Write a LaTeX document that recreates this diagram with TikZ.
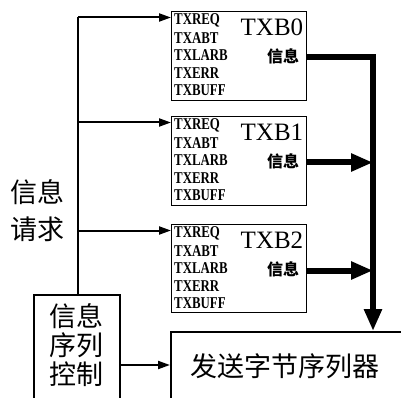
\documentclass[tikz,border=0pt]{standalone}
\usepackage{fontspec}
\setmainfont{Liberation Serif}
\newfontfamily\cjk{Noto Sans CJK SC}
\newfontfamily\tagfont[FakeStretch=0.78]{Liberation Serif}
\usetikzlibrary{arrows.meta,calc}
\begin{document}
\begin{tikzpicture}[x=1pt,y=-1pt,
  box/.style={draw, line width=1.4pt, anchor=north west, inner sep=0pt, minimum width=135pt, minimum height=89pt},
  openbox/.style={draw, line width=1.7pt, anchor=north west, inner sep=0pt},
  tag/.style={font=\tagfont\bfseries\fontsize{16.5}{16.5}\selectfont, anchor=west, inner sep=0pt},
  boxname/.style={font=\fontsize{25}{25}\selectfont, anchor=east, inner sep=0pt},
  msg/.style={font=\cjk\bfseries\fontsize{16}{16}\selectfont, anchor=east, inner sep=0pt},
  big/.style={font=\cjk\fontsize{27}{27}\selectfont, inner sep=0pt},
  req/.style={line width=2pt, -{Triangle[length=12pt,width=8pt]}},
  bus/.style={line width=6pt, line join=miter},
  busarrow/.style={bus, -{Triangle[length=22pt,width=17pt]}}]
\useasboundingbox (0,0) rectangle (401,398);
\clip (0,0) rectangle (401,398);

% TX buffer boxes
\node[box] (b0) at (171,11) {};
\node[box] (b1) at (171,116) {};
\node[box, minimum height=88pt] (b2) at (171,224) {};

\foreach \b/\n in {b0/0,b1/1,b2/2}{
  \node[tag] (\b r) at ($(\b.north west)+(3,9.5)$) {TXREQ};
  \node[tag] (\b a) at ($(\b.north west)+(3,27)$) {TXABT};
  \node[tag] (\b l) at ($(\b.north west)+(3,44.5)$) {TXLARB};
  \node[tag] (\b e) at ($(\b.north west)+(3,62)$) {TXERR};
  \node[tag] (\b f) at ($(\b.north west)+(3,79.5)$) {TXBUFF};
  \node[boxname] (\b n) at ($(\b.north east)+(-4,16)$) {TXB\n};
  \node[msg] (\b m) at ($(\b.north east)+(-8,45)$) {信息};
  \coordinate (\b in) at ($(\b.north west)+(0,6.5)$);
  \coordinate (\b out) at ($(\b.north east)+(0,46.5)$);
}

% control and sender boxes
\node[openbox, minimum width=86pt, minimum height=130pt] (ctrl) at (33,294) {};
\node[openbox, minimum width=260pt, minimum height=100pt] (send) at (170,331) {};

\node[big] (c1) at (76,316) {信息};
\node[big] (c2) at (76,345) {序列};
\node[big] (c3) at (76,374) {控制};
\node[big] (st) at (285,366) {发送字节序列器};

\node[big] (q1) at (37,192) {信息};
\node[big] (q2) at (37,229) {请求};

% request spine
\coordinate (s0) at (78,0 |- b0in);
\coordinate (s1) at (78,0 |- b1in);
\coordinate (s2) at (78,0 |- b2in);
\coordinate (sb) at (s0 |- ctrl.north);
\draw[line width=2pt] (s0) -- (sb);
\draw[req] (s0) -- (b0in);
\draw[req] (s1) -- (b1in);
\draw[req] (s2) -- (b2in);

% control to sender
\coordinate (cout) at (ctrl.east |- 0,365);
\draw[req] (cout) -- (send.west |- cout);

% output bus
\coordinate (j0) at (373,0 |- b0out);
\coordinate (j1) at (373,0 |- b1out);
\coordinate (j2) at (373,0 |- b2out);
\draw[busarrow] (b0out) -- (j0) -- (j0 |- send.north);
\draw[busarrow] (b1out) -- (j1);
\draw[busarrow] (b2out) -- (j2);
\end{tikzpicture}
\end{document}
